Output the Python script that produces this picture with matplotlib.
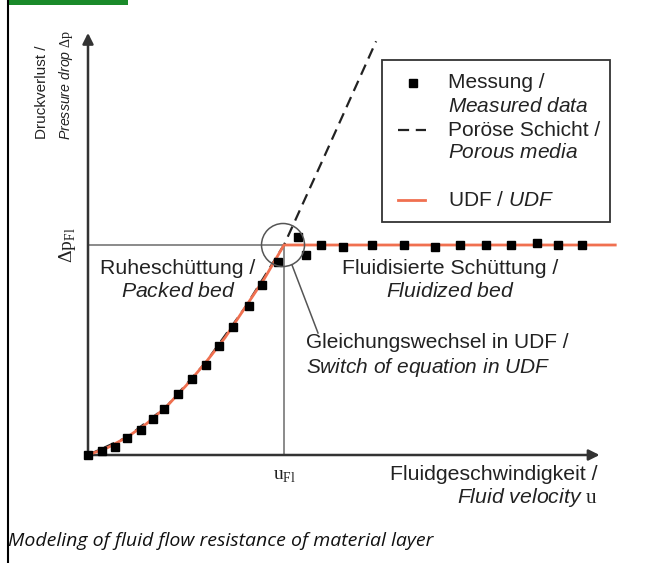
import numpy as np
import matplotlib.pyplot as plt
from matplotlib.patches import Ellipse, Rectangle
from matplotlib.lines import Line2D

plt.rcParams['font.family'] = ['Liberation Sans', 'DejaVu Sans']
plt.rcParams['mathtext.fontset'] = 'custom'
plt.rcParams['mathtext.rm'] = 'Liberation Serif'
plt.rcParams['mathtext.it'] = 'Liberation Sans:italic'
plt.rcParams['mathtext.sf'] = 'Liberation Sans'

# measured data (u / u_Fl, dp / dp_Fl)
meas_u = [0.0, 0.07, 0.14, 0.20, 0.27, 0.33, 0.39, 0.46, 0.53, 0.60, 0.67, 0.74,
          0.82, 0.89, 0.97, 1.07, 1.11, 1.19, 1.30, 1.45, 1.61, 1.77, 1.90, 2.03,
          2.16, 2.29, 2.40, 2.52]
meas_dp = [0.0, 0.02, 0.04, 0.08, 0.12, 0.17, 0.22, 0.29, 0.36, 0.43, 0.52, 0.61,
           0.71, 0.81, 0.92, 1.04, 0.95, 1.00, 0.99, 1.00, 1.00, 0.99, 1.00, 1.00,
           1.00, 1.01, 1.00, 1.00]

# UDF model
udf_u = [0.0, 0.1, 0.2, 0.3, 0.4, 0.5, 0.6, 0.7, 0.8, 0.9, 1.0, 2.69]
udf_dp = [0.0, 0.035, 0.085, 0.15, 0.23, 0.33, 0.44, 0.56, 0.70, 0.84, 1.0, 1.0]

# porous media (no fluidization)
por_u = [0.0, 0.2, 0.4, 0.6, 0.8, 1.0, 1.2, 1.47]
por_dp = [0.0, 0.085, 0.23, 0.44, 0.70, 1.0, 1.41, 1.97]

W, H = 650, 563
X0, Y0, SX, SY = 88, 455, 196, 210   # pixel origin and scale of the chart


def fx(px):
    return px / W


def fy(py):
    return 1 - py / H


fig = plt.figure(figsize=(6.5, 5.63), dpi=100)
ax = fig.add_axes([0, 0, 1, 1])
ax.set_xlim(-X0 / SX, (W - X0) / SX)
ax.set_ylim(-(H - Y0) / SY, Y0 / SY)
ax.axis('off')

txt = '#222222'
red = '#f07050'

# page decoration
fig.add_artist(Rectangle((fx(7), fy(5)), fx(121), 5 / H, transform=fig.transFigure,
                         color='#1a8a2a', lw=0))
fig.add_artist(Line2D([fx(7.5), fx(7.5)], [0, 1], transform=fig.transFigure,
                      color='black', lw=1.5))

# axes arrows
ax.annotate('', xy=(2.61, 0), xytext=(0, 0),
            arrowprops=dict(arrowstyle='-|>', color='#333333', lw=1.8,
                            mutation_scale=16, shrinkA=0, shrinkB=0))
ax.annotate('', xy=(0, 2.01), xytext=(0, 0),
            arrowprops=dict(arrowstyle='-|>', color='#333333', lw=1.8,
                            mutation_scale=16, shrinkA=0, shrinkB=0))

# reference lines
ax.plot([0, 1], [1, 1], color='#777777', lw=1.2, zorder=1)
ax.plot([1, 1], [0, 1], color='#777777', lw=1.2, zorder=1)

ax.plot(por_u, por_dp, color='#222222', lw=1.6, ls=(0, (5, 3)), zorder=2)
ax.plot(udf_u, udf_dp, color=red, lw=2, zorder=3)
ax.plot(meas_u, meas_dp, ls='none', marker='s', color='black', markersize=6, zorder=4)

# switch circle
ax.add_patch(Ellipse((0.995, 1.0), 43 / SX, 43 / SY, fill=False,
                     edgecolor='#555555', lw=1.1, zorder=5))
ax.plot([(292 - X0) / SX, (318 - X0) / SX], [(Y0 - 265) / SY, (Y0 - 333) / SY],
        color='#555555', lw=1.1)

fs = 15.3
ls = 1.3
fig.text(fx(178), fy(280), 'Ruheschüttung /\n$\\mathit{Packed\\ bed}$', ha='center',
         va='center', fontsize=fs, color=txt, linespacing=ls)
fig.text(fx(450), fy(280), 'Fluidisierte Schüttung /\n$\\mathit{Fluidized\\ bed}$',
         ha='center', va='center', fontsize=fs, color=txt, linespacing=ls)
fig.text(fx(306), fy(356), 'Gleichungswechsel in UDF /\n$\\mathit{Switch\\ of\\ equation\\ in\\ UDF}$',
         ha='left', va='center', fontsize=15, color=txt, linespacing=1.2)

# axis labels
fig.text(fx(598), fy(487), 'Fluidgeschwindigkeit /\n$\\mathit{Fluid\\ velocity}\\ \\mathrm{u}$',
         ha='right', va='center', fontsize=fs, color=txt, linespacing=1.15,
         multialignment='right')
fig.text(fx(285), fy(476), '$\\mathrm{u}_{\\mathrm{Fl}}$', ha='center', va='center',
         fontsize=14, color=txt)
fig.text(fx(42), fy(139), 'Druckverlust /', rotation=90, ha='center', va='bottom',
         fontsize=11, color=txt)
fig.text(fx(66), fy(140), '$\\mathit{Pressure\\ drop}\\ \\Delta\\mathrm{p}$', rotation=90,
         ha='center', va='bottom', fontsize=10.2, color=txt)
fig.text(fx(68), fy(245), '$\\Delta\\mathrm{p}_{\\mathrm{Fl}}$', rotation=90, ha='center',
         va='center', fontsize=14, color=txt)

# legend box
fig.add_artist(Rectangle((fx(382), fy(222)), fx(228), 162 / H, transform=fig.transFigure,
                         fill=False, edgecolor='#333333', lw=1.3))
fig.add_artist(Line2D([fx(413)], [fy(83)], transform=fig.transFigure, ls='none',
                      marker='s', color='black', markersize=6))
fig.add_artist(Line2D([fx(398), fx(426)], [fy(130), fy(130)], transform=fig.transFigure,
                      color='#222222', lw=1.6, ls=(0, (5, 3))))
fig.add_artist(Line2D([fx(398), fx(425)], [fy(200), fy(200)], transform=fig.transFigure,
                      color=red, lw=2))
leg_fs = 15
leg_rows = [(83, 'Messung /'), (107, '$\\mathit{Measured\\ data}$'),
            (130, 'Poröse Schicht /'), (153, '$\\mathit{Porous\\ media}$'),
            (200, 'UDF / $\\mathit{UDF}$')]
for yy, s in leg_rows:
    fig.text(fx(448), fy(yy), s, ha='left', va='center', fontsize=leg_fs, color=txt)

fig.text(fx(8), fy(541), 'Modeling of fluid flow resistance of material layer',
         fontsize=14, style='italic', family=['Open Sans', 'DejaVu Sans'],
         color='#111111', va='center')

fig.savefig('out.png', dpi=100)
